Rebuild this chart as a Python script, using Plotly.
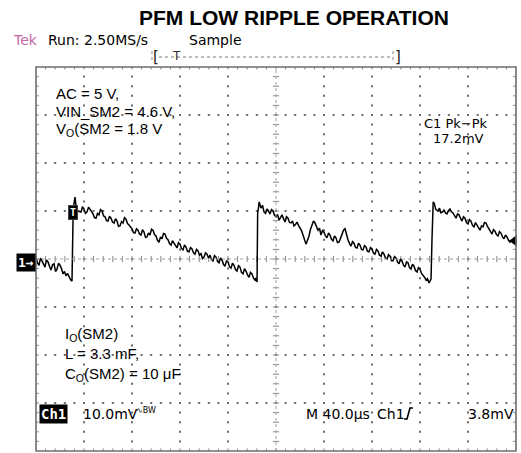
import plotly.graph_objects as go

# ---------------- data ----------------
time_us = [
    0, 1.25, 2.5, 3.75, 5, 6.25, 7.5, 8.75, 10, 11.25, 12.5, 13.75, 15, 16.25, 17.5, 18.75,
    20, 21.25, 22.5, 23.75, 25, 26.25, 27.5, 28.3, 29, 30,
    30.4, 31, 32.5, 33.5, 35,
    37.5, 38.75, 40, 41.25, 42.5, 43.75, 45, 46.25, 47.5, 48.75, 50, 51.25, 52.5, 53.75, 55, 56.25,
    57.5, 58.75, 60, 61.25, 62.5, 63.75, 65, 66.25, 67.5, 68.75, 70, 71.25, 72.5, 73.75, 75, 76.25,
    77.5, 78.75, 80, 81.25, 82.5, 83.75, 85, 86.25, 87.5, 88.75, 90, 91.25, 92.5, 93.75, 95, 96.25,
    97.5, 98.75, 100, 101.25, 102.5, 103.75, 105, 106.25, 107.5, 108.75, 110, 111.25, 112.5, 113.75,
    115, 116.25, 117.5, 118.75, 120, 121.25, 122.5, 123.75, 125, 126.25, 127.5, 128.75, 130, 131.25,
    132.5, 133.75, 135, 136.25, 137.5, 138.75, 140, 141.25, 142.5, 143.75, 145, 146.25, 147.5, 148.75,
    150, 151.25, 152.5, 153.75, 155, 156.25, 157.5, 158.75, 160, 161.25, 162.5, 163.75, 165, 166.25,
    167.5, 168.75, 170, 171.25, 172.5, 173.75, 175, 176.25, 177.5, 178.75, 180, 181.25, 182.5, 183.4,
    184.2,
    184.7, 185.3, 186, 187,
    187.5, 188.75, 190, 191.25, 192.5, 193.75, 195, 196.25, 197.5, 198.75, 200, 201.25, 202.5, 203.75,
    205, 206.25, 207.5, 208.75, 210, 211.25, 212.5, 213.75, 215, 216.25, 217.5, 218.75, 220, 221.25,
    222.5, 223.75, 225, 226.25, 227.5, 228.75, 230, 231.25, 232.5, 233.75, 235, 236.25, 237.5, 238.75,
    240, 241.25, 242.5, 243.75, 245, 246.25, 247.5, 248.75, 250, 251.25, 252.5, 253.75, 255, 256.25,
    257.5, 258.75, 260, 261.25, 262.5, 263.75, 265, 266.25, 267.5, 268.75, 270, 271.25, 272.5, 273.75,
    275, 276.25, 277.5, 278.75, 280, 281.25, 282.5, 283.75, 285, 286.25, 287.5, 288.75, 290, 291.25,
    292.5, 293.75, 295, 296.25, 297.5, 298.75, 300, 301.25, 302.5, 303.75, 305, 306.25, 307.5, 308.75,
    310, 311.25, 312.5, 313.75, 315, 316.25, 317.5, 318.75, 320, 321.25, 322.5, 323.75, 325, 326.25,
    327.5, 328.4, 329.2,
    330, 330.5, 331, 332, 333,
    335, 336.25, 337.5, 338.75, 340, 341.25, 342.5, 343.75, 345, 346.25, 347.5, 348.75, 350, 351.25,
    352.5, 353.75, 355, 356.25, 357.5, 358.75, 360, 361.25, 362.5, 363.75, 365, 366.25, 367.5, 368.75,
    370, 371.25, 372.5, 373.75, 375, 376.25, 377.5, 378.75, 380, 381.25, 382.5, 383.75, 385, 386.25,
    387.5, 388.75, 390, 391.25, 392.5, 393.75, 395, 396.7]
ch1_mV = [
    0.4, -0.8, -1.3, 0.2, -0.4, -1.0, -1.7, -0.2, -0.6, -1.5, -2.3, -1.2, -1.0, -2.6, -2.1, -0.9,
    -1.3, -2.0, -3.1, -2.6, -3.5, -3.0, -3.8, -4.0, -4.4, -4.6,
    8.0, 10.4, 12.9, 10.6, 10.0,
    9.8, 10.9, 10.4, 9.5, 9.8, 10.8, 10.2, 9.9, 9.4, 8.6, 8.5, 9.5, 9.2, 10.3, 10.0, 9.0,
    8.8, 8.0, 7.9, 8.9, 8.5, 7.7, 7.5, 8.4, 7.9, 6.8, 6.9, 7.8, 7.5, 8.6, 8.3, 7.4,
    7.1, 6.6, 6.3, 5.5, 5.4, 6.3, 6.0, 5.2, 5.0, 6.1, 5.6, 4.5, 4.6, 5.4, 5.0, 6.2,
    6.0, 5.1, 4.8, 3.9, 3.5, 4.6, 4.2, 5.3, 5.2, 4.3, 4.0, 3.2, 2.9, 3.8,
    3.3, 2.6, 2.3, 3.4, 3.1, 2.2, 1.9, 2.9, 2.5, 1.6, 1.5, 2.4, 2.1, 1.3,
    1.0, 2.0, 1.7, 0.8, 1.1, 0.1, 0.4, 1.3, 1.0, 0.2, 0.8, -0.1, -0.4, 0.7,
    0.4, -0.5, -0.8, 0.2, -0.2, -1.1, -1.5, -0.4, -0.6, -1.6, -1.9, -0.9, -1.3, -2.2,
    -2.5, -1.4, -1.7, -2.8, -3.1, -2.0, -2.5, -3.3, -3.8, -2.8, -3.1, -4.0, -4.4, -3.9,
    -4.8,
    9.4, 11.5, 11.9, 11.0,
    10.6, 11.2, 9.8, 9.5, 10.4, 10.0, 9.4, 10.3, 10.0, 9.1, 8.8, 9.3, 8.1, 8.6,
    9.2, 8.4, 7.7, 8.8, 8.5, 7.6, 7.5, 7.9, 6.9, 7.2, 7.7, 7.0, 6.5, 5.9,
    5.0, 4.0, 3.1, 3.9, 4.8, 6.2, 7.1, 7.9, 7.5, 6.6, 6.0, 6.4, 5.0, 5.9,
    5.6, 4.8, 4.4, 5.4, 5.0, 4.1, 3.8, 4.8, 4.4, 3.4, 3.5, 4.3, 5.0, 6.0,
    6.3, 5.0, 4.0, 3.2, 2.7, 3.6, 3.3, 2.4, 2.3, 3.3, 2.9, 2.0, 1.9, 2.8,
    2.5, 1.6, 1.5, 2.4, 2.1, 1.2, 1.0, 2.0, 1.7, 0.8, 0.6, 1.5, 1.0, 0.2,
    0.0, 0.9, 0.6, -0.3, -0.4, 0.5, 0.2, -0.6, -1.0, 0.0, -0.4, -1.3, -1.7, -0.6,
    -0.8, -1.8, -2.1, -1.1, -1.5, -2.4, -2.7, -1.8, -2.1, -3.0, -3.3, -3.8, -4.4, -4.1,
    -5.0, -4.6, -4.2,
    4.2, 10.4, 11.9, 11.5, 10.4,
    10.0, 10.6, 9.6, 9.8, 10.2, 9.6, 9.4, 10.1, 10.4, 9.8, 9.6, 9.0, 8.5, 9.4,
    9.2, 8.5, 7.9, 8.8, 8.5, 7.6, 7.3, 8.2, 7.9, 7.0, 6.7, 7.6, 7.1, 6.4,
    6.0, 6.9, 6.7, 7.6, 7.5, 6.8, 6.3, 5.6, 5.2, 6.1, 5.8, 5.1, 4.8, 5.7,
    5.4, 4.6, 4.2, 5.0, 4.6, 3.9, 3.5, 3.9]

trigger_level_mV = 3.8
x_range_us = [0, 400]
y_range_mV = [-40, 40]
x_div_us = 40
y_div_mV = 10

title_text = "PFM LOW RIPPLE OPERATION"
header_tek = "Tek"
header_run = "Run: 2.50MS/s"
header_mode = "Sample"
cond_top = ["AC = 5 V,", "VIN_SM2 = 4.6 V,", "V<sub>O</sub>(SM2 = 1.8 V"]
cond_bottom = ["I<sub>O</sub>(SM2)", "L = 3.3 mF,", "C<sub>O</sub>(SM2) = 10 μF"]
meas_label = "C1 Pk\u2212Pk"
meas_value = "17.2mV"
ch_label = "Ch1"
ch_scale = "10.0mV"
bw_mark = "\u223fBW"
time_scale = "M 40.0\u00b5s"
trig_src = "Ch1"
trig_level_txt = "3.8mV"

# ---------------- layout geometry ----------------
W, H = 521, 453
ML, MR, MT, MB = 36, 5, 67, 2
PW, PH = W - ML - MR, H - MT - MB


def pxp(x):  # pixel x -> paper
    return (x - ML) / PW


def pyp(y):  # pixel y -> paper
    return (H - MB - y) / PH


fig = go.Figure()

x0, x1 = x_range_us
y0, y1 = y_range_mV
mx = x_div_us / 5
my = y_div_mV / 5
nx = int((x1 - x0) / x_div_us)
ny = int((y1 - y0) / y_div_mV)
xc = (x0 + x1) / 2
yc = (y0 + y1) / 2

# grid dots
gx, gy = [], []
for k in range(1, nx):
    xv = x0 + k * x_div_us
    if xv == xc:
        continue
    for j in range(0, int((y1 - y0) / my) + 1):
        gx.append(xv)
        gy.append(y0 + j * my)
for k in range(1, ny):
    yv = y0 + k * y_div_mV
    if yv == yc:
        continue
    for j in range(0, int((x1 - x0) / mx) + 1):
        gx.append(x0 + j * mx)
        gy.append(yv)
fig.add_trace(go.Scatter(x=gx, y=gy, mode="markers",
                         marker=dict(symbol="square", size=2, color="#6a6a6a", line=dict(width=0)),
                         hoverinfo="skip"))

# centre cross ticks and edge ticks
tx, ty = [], []
for j in range(1, int((x1 - x0) / mx)):
    xv = x0 + j * mx
    tx += [xv, xv, None]
    ty += [yc - 0.65, yc + 0.65, None]
    tx += [xv, xv, None]
    ty += [y1, y1 - 0.55, None]
    tx += [xv, xv, None]
    ty += [y0, y0 + 0.55, None]
for j in range(1, int((y1 - y0) / my)):
    yv = y0 + j * my
    tx += [xc - 2.6, xc + 2.6, None]
    ty += [yv, yv, None]
    tx += [x0, x0 + 2.4, None]
    ty += [yv, yv, None]
    tx += [x1, x1 - 2.4, None]
    ty += [yv, yv, None]
fig.add_trace(go.Scatter(x=tx, y=ty, mode="lines", line=dict(color="#8a8a8a", width=1),
                         hoverinfo="skip"))

fig.add_shape(type="line", x0=x0, x1=x1, y0=yc, y1=yc, xref="x", yref="y",
              line=dict(color="#a0a0a0", width=1, dash="dot"))
fig.add_shape(type="line", x0=xc, x1=xc, y0=y0, y1=y1, xref="x", yref="y",
              line=dict(color="#a0a0a0", width=1, dash="dot"))

# waveform
fig.add_trace(go.Scatter(x=time_us, y=ch1_mV, mode="lines",
                         line=dict(color="black", width=1.5), hoverinfo="skip"))

# trigger level marker at right edge
fig.add_trace(go.Scatter(x=[x1 - 1.5], y=[trigger_level_mV], mode="markers",
                         marker=dict(symbol="triangle-left", size=10, color="black"),
                         hoverinfo="skip", cliponaxis=False))

# frame
fig.add_shape(type="rect", xref="paper", yref="paper", x0=0, x1=1, y0=0, y1=1,
              line=dict(color="#6e6e6e", width=1.6))

mono = "DejaVu Sans Mono"
scope = "DejaVu Sans"
sans = "Liberation Sans"
anns = []


def ann(text, x, y, size, family, color="black", xanchor="left", **kw):
    anns.append(dict(text=text, x=pxp(x), y=pyp(y), xref="paper", yref="paper",
                     xanchor=xanchor, yanchor="middle", showarrow=False,
                     font=dict(size=size, family=family, color=color), **kw))


# header
ann("<b>" + title_text + "</b>", 294, 17, 21, sans, xanchor="center")
ann(header_tek, 11, 40, 14, scope, color="#c466a8")
ann(header_run, 46, 40, 14, scope)
ann(header_mode, 187, 40, 14, scope)
ann("[", 156, 57, 15, scope, color="#222", xanchor="center")
ann("T", 176, 56, 12, scope, color="#333", xanchor="center")
ann("]", 398, 57, 15, scope, color="#222", xanchor="center")
fig.add_shape(type="line", xref="paper", yref="paper", x0=pxp(159), x1=pxp(393),
              y0=pyp(57), y1=pyp(57), line=dict(color="#777", width=1, dash="dot"))
for bx in (152, 393):
    fig.add_shape(type="line", xref="paper", yref="paper", x0=pxp(bx), x1=pxp(bx),
                  y0=pyp(51), y1=pyp(63), line=dict(color="#888", width=1, dash="dot"))

# condition text
for i, t in enumerate(cond_top):
    ann(t, 54, 93 + 18 * i, 15, sans)
for t, yy in zip(cond_bottom, [334, 353, 374]):
    ann(t, 63, yy, 15, sans)

# measurement
ann(meas_label, 456, 123, 13, scope, xanchor="center")
ann(meas_value, 458, 138, 13, scope, xanchor="center")

# bottom readout
ann("<b>" + ch_label + "</b>", 53, 414, 14, mono, color="white", xanchor="center",
    bgcolor="black", borderpad=1)
ann(ch_scale, 81, 414, 14, scope)
ann(bw_mark, 134, 410, 8, scope)
ann(time_scale, 304, 414, 14, scope)
ann(trig_src, 375, 414, 14, scope)
ann(trig_level_txt, 516, 414, 14, scope, xanchor="right")
sp = "M {} {} L {} {} L {} {} L {} {}".format(pxp(404), pyp(419), pxp(407), pyp(419),
                                               pxp(410), pyp(408), pxp(413), pyp(408))
fig.add_shape(type="path", xref="paper", yref="paper", path=sp,
              line=dict(color="black", width=1.6))

# channel ground marker and trigger marker
ann("<b>1\u2192</b>", 26, 262, 13, mono, color="white", xanchor="center",
    bgcolor="black", borderpad=1)
ann("<b>T</b>", 72.5, 212, 10, mono, color="white", xanchor="center",
    bgcolor="black", borderpad=1, bordercolor="#444", borderwidth=1)

fig.update_layout(
    width=W, height=H,
    margin=dict(l=ML, r=MR, t=MT, b=MB),
    paper_bgcolor="white", plot_bgcolor="white",
    showlegend=False, hovermode=False,
    xaxis=dict(range=x_range_us, visible=False, fixedrange=True),
    yaxis=dict(range=y_range_mV, visible=False, fixedrange=True),
    annotations=anns,
)

fig.write_html("out.html", config={"displayModeBar": False, "staticPlot": True},
               post_script="document.body.style.margin='0px';")
